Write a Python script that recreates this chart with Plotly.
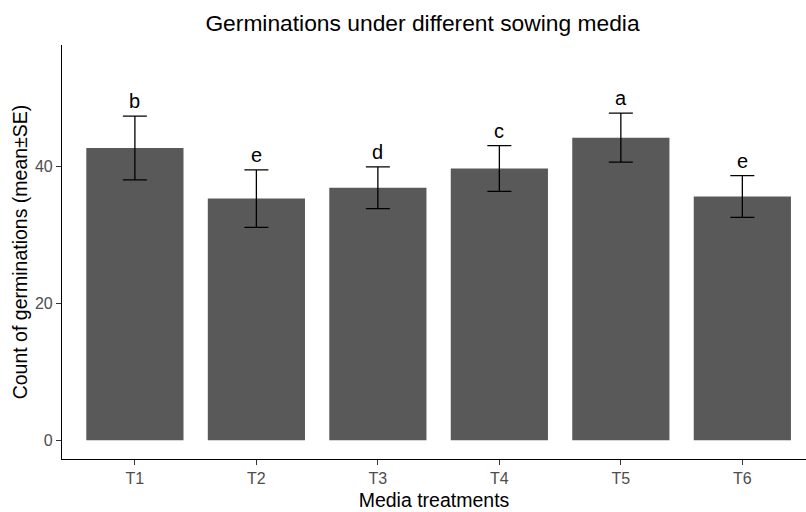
import plotly.graph_objects as go

categories = ["T1", "T2", "T3", "T4", "T5", "T6"]
means = [42.7, 35.3, 36.9, 39.7, 44.2, 35.6]
se = [4.65, 4.2, 3.05, 3.35, 3.58, 3.05]
letters = ["b", "e", "d", "c", "a", "e"]
y_ticks = [0, 20, 40]

FONT = "Liberation Sans, Arial, sans-serif"

fig = go.Figure()
fig.add_trace(go.Bar(
    x=categories, y=means, width=0.8,
    marker=dict(color="#595959", line=dict(width=0)),
    error_y=dict(type="data", array=se, visible=True, color="black",
                 thickness=1.3, width=12),
    showlegend=False,
))

for c, m, s, l in zip(categories, means, se, letters):
    fig.add_annotation(x=c, y=m + s, text=l, showarrow=False,
                       yanchor="bottom", yshift=2,
                       font=dict(family=FONT, size=20, color="black"))

fig.update_layout(
    width=806, height=512,
    margin=dict(l=62, r=0, t=45, b=53, autoexpand=False),
    paper_bgcolor="white", plot_bgcolor="white",
    title=dict(text="Germinations under different sowing media",
               x=422.5 / 806, xref="container", xanchor="center",
               y=1 - 23 / 512, yref="container", yanchor="middle",
               font=dict(family=FONT, size=22.8, color="black")),
    font=dict(family=FONT),
)

fig.update_xaxes(
    range=[-0.6, 5.524], showline=True, linecolor="black", linewidth=1.1,
    ticks="outside", ticklen=5, tickcolor="#333333", tickwidth=1,
    showgrid=False, zeroline=False,
    tickfont=dict(family=FONT, size=16, color="#4D4D4D"),
    title=dict(text="Media treatments", standoff=7,
               font=dict(family=FONT, size=19.5, color="black")),
    automargin=False,
)
fig.update_yaxes(
    range=[-2.75, 57.75], tickvals=y_ticks, showline=True, linecolor="black",
    linewidth=1.1, ticks="outside", ticklen=5, tickcolor="#333333", tickwidth=1,
    showgrid=False, zeroline=False,
    tickfont=dict(family=FONT, size=16, color="#4D4D4D"),
    title=dict(text="Count of germinations (mean±SE)", standoff=2,
               font=dict(family=FONT, size=19.5, color="black")),
    automargin=False,
)

fig.write_html("out.html", config={"displayModeBar": False})

# remove default page margin so the figure sits at the window's top-left
with open("out.html", "r", encoding="utf-8") as f:
    html = f.read()
html = html.replace("<head>", "<head><style>html,body{margin:0;padding:0;overflow:hidden}</style>", 1)
with open("out.html", "w", encoding="utf-8") as f:
    f.write(html)
